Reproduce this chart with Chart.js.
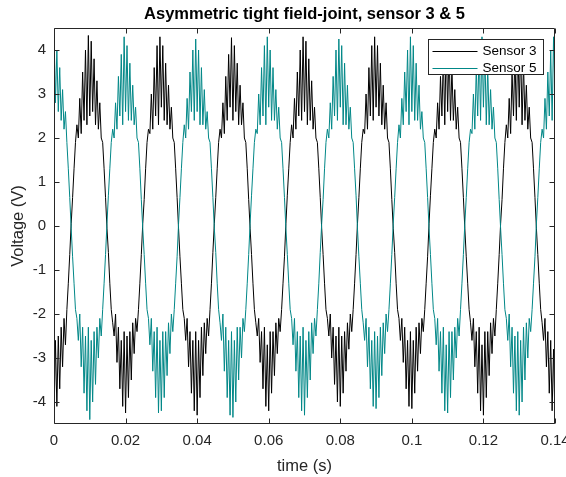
<!DOCTYPE html>
<html>
<head>
<meta charset="utf-8">
<title>Asymmetric tight field-joint, sensor 3 &amp; 5</title>
<script src="https://cdn.jsdelivr.net/npm/chart.js@4.4.1/dist/chart.umd.min.js"></script>
<style>
  body { margin: 0; background: #fff; }
  canvas { display: block; }
</style>
</head>
<body>
<canvas id="sensorChart" width="566" height="477"></canvas>
<script>
const sampleInterval = 0.0004;

const sensor3 = [
  -4.45, -2.6, -4.1, -2.5, -3.7, -2.3, -3.2, -2.1, -2.7, -1.9, -1.3, -0.65,
  0.05,
  0.65, 1.3, 1.9, 2.3, 2.0, 2.9, 2.1, 3.5, 2.4, 4.0, 2.3, 4.33, 2.5, 4.2, 2.6, 3.8, 2.3, 3.3, 2.2, 2.8, 2.0, 1.9, 1.3, 0.65,
  -0.05,
  -0.6, -1.3, -1.9, -2.2, -2.5, -2.0, -3.1, -2.3, -3.7, -2.6, -4.1, -2.4, -4.25, -2.5, -3.9, -2.4, -3.5, -2.2, -2.9, -2.1, -2.4, -1.9, -1.3, -0.65,
  0.05,
  0.6, 1.3, 1.9, 2.2, 2.1, 3.0, 2.2, 3.6, 2.5, 4.1, 2.3, 4.3, 2.7, 4.1, 2.4, 3.7, 2.3, 3.2, 2.2, 2.7, 2.0, 1.9, 1.3, 0.65,
  -0.05,
  -0.7, -1.3, -1.9, -2.1, -2.6, -2.1, -3.2, -2.4, -3.8, -2.6, -4.2, -2.4, -4.3, -2.6, -3.9, -2.3, -3.4, -2.2, -2.9, -2.1, -2.5, -1.9, -1.3, -0.6,
  0.05,
  0.65, 1.3, 1.9, 2.2, 2.0, 2.8, 2.1, 3.4, 2.4, 3.9, 2.7, 4.28, 2.4, 4.1, 2.6, 3.7, 2.3, 3.2, 2.3, 2.8, 2.0, 1.9, 1.3, 0.6,
  -0.05,
  -0.65, -1.3, -1.9, -2.2, -2.5, -2.1, -3.1, -2.4, -3.7, -2.3, -4.1, -2.7, -4.2, -2.4, -3.8, -2.4, -3.4, -2.2, -2.9, -2.1, -2.4, -1.9, -1.3, -0.7,
  0.05,
  0.7, 1.3, 1.9, 2.3, 2.0, 2.9, 2.2, 3.5, 2.5, 4.0, 2.4, 4.3, 2.6, 4.2, 2.3, 3.8, 2.4, 3.3, 2.2, 2.7, 2.0, 1.9, 1.3, 0.65,
  -0.05,
  -0.65, -1.3, -1.9, -2.1, -2.5, -2.0, -3.0, -2.3, -3.6, -2.5, -4.0, -2.3, -4.1, -2.5, -3.8, -2.4, -3.3, -2.2, -2.8, -2.0, -2.4, -1.9, -1.3, -0.65,
  0.05,
  0.65, 1.3, 1.9, 2.2, 2.1, 3.0, 2.2, 3.6, 2.5, 4.1, 2.4, 4.3, 2.7, 4.1, 2.5, 3.7, 2.3, 3.2, 2.2, 2.8, 2.0, 1.9, 1.3, 0.6,
  -0.05,
  -0.6, -1.3, -1.9, -2.1, -2.6, -2.1, -3.1, -2.3, -3.7, -2.6, -4.1, -2.4, -4.15, -2.6, -3.8, -2.3, -3.3, -2.2, -2.9, -2.1, -2.4, -1.9, -1.3, -0.7,
  0.05,
  0.7, 1.3, 1.9, 2.2, 2.0, 2.8, 2.2, 3.4, 2.5, 3.9, 2.3, 4.25, 2.6, 4.1, 2.4, 3.6, 2.4, 3.1, 2.2, 2.7, 2.0, 1.9, 1.3, 0.65,
  -0.05,
  -0.7, -1.3, -1.9, -2.2, -2.6, -2.1, -3.2, -2.4, -3.8, -2.3, -4.2, -2.7, -4.3, -2.4, -3.9, -2.4, -3.4, -2.2, -2.9, -2.1, -2.5, -1.9, -1.3, -0.65,
  0.05,
  0.6, 1.3, 1.9, 2.3, 2.0, 2.9, 2.1, 3.5, 2.5, 3.9, 2.4, 4.2, 2.7, 4.1, 2.3, 3.7, 2.4, 3.2, 2.2, 2.7, 2.0, 1.9, 1.3, 0.65,
  -0.05,
  -0.65, -1.3, -1.9, -2.2, -2.6, -2.1, -3.2, -2.4, -3.8, -2.6, -4.2, -2.8, -4.5
];

const sensor5 = [
  4.4, 2.8, 4.0, 2.6, 3.6, 2.4, 3.1, 2.2, 2.6, 1.9, 1.3, 0.65,
  -0.05,
  -0.7, -1.3, -1.9, -2.1, -2.6, -2.0, -3.2, -2.3, -3.8, -2.5, -4.2, -2.3, -4.4, -2.6, -4.0, -2.4, -3.6, -2.3, -3.0, -2.1, -2.5, -1.9, -1.3, -0.65,
  0.05,
  0.7, 1.3, 1.9, 2.2, 2.0, 2.8, 2.2, 3.4, 2.5, 3.9, 2.3, 4.3, 2.6, 4.1, 2.4, 3.7, 2.4, 3.2, 2.3, 2.7, 2.0, 1.9, 1.3, 0.6,
  -0.05,
  -0.65, -1.3, -1.9, -2.1, -2.7, -2.1, -3.3, -2.4, -3.9, -2.3, -4.25, -2.6, -4.2, -2.4, -3.9, -2.4, -3.4, -2.2, -2.9, -2.0, -2.4, -1.9, -1.3, -0.7,
  0.05,
  0.65, 1.3, 1.9, 2.3, 2.0, 2.9, 2.2, 3.5, 2.6, 4.0, 2.4, 4.25, 2.6, 4.0, 2.3, 3.6, 2.3, 3.1, 2.2, 2.6, 2.0, 1.9, 1.3, 0.65,
  -0.05,
  -0.6, -1.3, -1.9, -2.2, -2.6, -2.0, -3.3, -2.3, -3.9, -2.6, -4.3, -2.4, -4.35, -2.6, -4.0, -2.3, -3.5, -2.3, -3.0, -2.1, -2.4, -1.9, -1.3, -0.65,
  0.05,
  0.7, 1.3, 1.9, 2.2, 2.1, 3.0, 2.3, 3.6, 2.5, 4.1, 2.3, 4.3, 2.7, 4.0, 2.4, 3.6, 2.4, 3.1, 2.2, 2.7, 2.0, 1.9, 1.3, 0.65,
  -0.05,
  -0.65, -1.3, -1.9, -2.1, -2.7, -2.1, -3.3, -2.4, -3.9, -2.5, -4.2, -2.3, -4.3, -2.6, -3.9, -2.4, -3.5, -2.2, -2.9, -2.1, -2.5, -1.9, -1.3, -0.6,
  0.05,
  0.6, 1.3, 1.9, 2.2, 2.0, 2.8, 2.2, 3.4, 2.5, 4.0, 2.4, 4.25, 2.7, 4.1, 2.3, 3.7, 2.3, 3.2, 2.2, 2.7, 2.0, 1.9, 1.3, 0.7,
  -0.05,
  -0.7, -1.3, -1.9, -2.2, -2.6, -2.1, -3.2, -2.3, -3.7, -2.6, -4.1, -2.4, -4.15, -2.5, -3.9, -2.3, -3.4, -2.2, -2.9, -2.0, -2.4, -1.9, -1.3, -0.65,
  0.05,
  0.65, 1.3, 1.9, 2.3, 2.0, 2.9, 2.3, 3.5, 2.6, 4.0, 2.3, 4.3, 2.6, 4.1, 2.4, 3.7, 2.4, 3.2, 2.2, 2.6, 2.0, 1.9, 1.3, 0.65,
  -0.05,
  -0.65, -1.3, -1.9, -2.1, -2.7, -2.1, -3.3, -2.4, -3.8, -2.3, -4.2, -2.7, -4.25, -2.4, -3.9, -2.4, -3.5, -2.3, -3.0, -2.1, -2.5, -1.9, -1.3, -0.65,
  0.05,
  0.65, 1.3, 1.9, 2.2, 2.1, 3.0, 2.2, 3.6, 2.5, 4.1, 2.4, 4.3, 2.7, 4.0, 2.3, 3.6, 2.3, 3.1, 2.2, 2.7, 2.0, 1.9, 1.3, 0.6,
  -0.05,
  -0.65, -1.3, -1.9, -2.1, -2.6, -2.0, -3.2, -2.3, -3.8, -2.5, -4.2, -2.4, -4.3, -2.6, -4.0, -2.3, -3.5, -2.2, -3.0, -2.1, -2.4, -1.9, -1.3, -0.7,
  0.05,
  0.65, 1.3, 1.9, 2.2, 2.0, 2.9, 2.2, 3.5, 2.5, 4.0, 2.4, 4.3, 3.0
];

const seriesNames = ['Sensor 3', 'Sensor 5'];
const xTickValues = [0, 0.02, 0.04, 0.06, 0.08, 0.1, 0.12, 0.14];
const xTickLabels = ['0', '0.02', '0.04', '0.06', '0.08', '0.1', '0.12', '0.14'];
const yTickValues = [-4, -3, -2, -1, 0, 1, 2, 3, 4];
const yTickLabels = ['-4', '-3', '-2', '-1', '0', '1', '2', '3', '4'];

const FONT = 'Liberation Sans, Arial, Helvetica, sans-serif';
const AXIS_COLOR = '#262626';
const TEAL = 'rgb(0, 135, 135)';

const toPoints = (values) =>
  values.map((v, i) => ({ x: i * sampleInterval, y: v }));

// matlab style box with inward ticks on all four sides
const axesBox = {
  id: 'axesBox',
  afterDatasetsDraw(chart) {
    const { ctx, chartArea: a, scales } = chart;
    const left = Math.round(a.left) + 0.5;
    const right = Math.round(a.right) - 0.5;
    const top = Math.round(a.top) + 0.5;
    const bottom = Math.round(a.bottom) - 0.5;
    ctx.save();
    ctx.strokeStyle = AXIS_COLOR;
    ctx.lineWidth = 1;
    ctx.beginPath();
    scales.x.ticks.forEach((t) => {
      const px = Math.round(scales.x.getPixelForValue(t.value)) + 0.5;
      ctx.moveTo(px, bottom);
      ctx.lineTo(px, bottom - 5);
      ctx.moveTo(px, top);
      ctx.lineTo(px, top + 5);
    });
    scales.y.ticks.forEach((t) => {
      const py = Math.round(scales.y.getPixelForValue(t.value)) + 0.5;
      ctx.moveTo(left, py);
      ctx.lineTo(left + 5, py);
      ctx.moveTo(right, py);
      ctx.lineTo(right - 5, py);
    });
    ctx.rect(left, top, right - left, bottom - top);
    ctx.stroke();
    ctx.restore();
  },
};

const boxLegend = {
  id: 'boxLegend',
  afterDraw(chart) {
    const { ctx, chartArea: a } = chart;
    const w = 115;
    const h = 35;
    const x0 = Math.round(a.right) - 12 - w + 0.5;
    const y0 = Math.round(a.top) + 11 + 0.5;
    ctx.save();
    ctx.fillStyle = '#fff';
    ctx.fillRect(x0, y0, w, h);
    ctx.strokeStyle = AXIS_COLOR;
    ctx.lineWidth = 1;
    ctx.strokeRect(x0, y0, w, h);
    ctx.font = '13.5px ' + FONT;
    ctx.textBaseline = 'middle';
    ctx.textAlign = 'left';
    chart.data.datasets.forEach((ds, i) => {
      const ly = Math.round(y0 + 11 + i * 17) + 0.5;
      ctx.strokeStyle = ds.borderColor;
      ctx.beginPath();
      ctx.moveTo(x0 + 4, ly);
      ctx.lineTo(x0 + 49, ly);
      ctx.stroke();
      ctx.fillStyle = '#000';
      ctx.fillText(ds.label, x0 + 54, ly);
    });
    ctx.restore();
  },
};

new Chart(document.getElementById('sensorChart'), {
  type: 'line',
  data: {
    datasets: [
      {
        label: seriesNames[0],
        data: toPoints(sensor3),
        borderColor: '#000',
        borderWidth: 1,
        pointRadius: 0,
        borderJoinStyle: 'round',
        tension: 0,
        order: 2,
      },
      {
        label: seriesNames[1],
        data: toPoints(sensor5),
        borderColor: TEAL,
        borderWidth: 1,
        pointRadius: 0,
        borderJoinStyle: 'round',
        tension: 0,
        order: 1,
      },
    ],
  },
  options: {
    responsive: false,
    animation: false,
    events: [],
    layout: { padding: { left: 0, right: 0, top: 0, bottom: 0 } },
    plugins: {
      legend: { display: false },
      tooltip: { enabled: false },
      title: {
        display: true,
        fullSize: false,
        text: 'Asymmetric tight field-joint, sensor 3 & 5',
        color: '#000',
        font: { family: FONT, size: 16.5, weight: 'bold', lineHeight: 1.2 },
        padding: { top: 5, bottom: 3.2 },
      },
    },
    scales: {
      x: {
        type: 'linear',
        min: 0,
        max: 0.14,
        grid: { display: false, drawTicks: false },
        border: { display: false },
        afterFit: (scale) => {
          scale.height = 53;
          scale.paddingLeft = 0;
          scale.paddingRight = 11;
        },
        afterBuildTicks: (scale) => {
          scale.ticks = xTickValues.map((v) => ({ value: v }));
        },
        ticks: {
          color: AXIS_COLOR,
          font: { family: FONT, size: 15 },
          padding: 8,
          maxRotation: 0,
          autoSkip: false,
          callback: (value, index) => xTickLabels[index],
        },
        title: {
          display: true,
          text: 'time (s)',
          color: AXIS_COLOR,
          font: { family: FONT, size: 16.5, lineHeight: 1.0 },
          padding: { top: 0, bottom: 2 },
        },
      },
      y: {
        type: 'linear',
        min: -4.5,
        max: 4.5,
        grid: { display: false, drawTicks: false },
        border: { display: false },
        afterFit: (scale) => {
          scale.width = 54;
          scale.paddingTop = 0;
          scale.paddingBottom = 0;
        },
        afterBuildTicks: (scale) => {
          scale.ticks = yTickValues.map((v) => ({ value: v }));
        },
        ticks: {
          color: AXIS_COLOR,
          font: { family: FONT, size: 15 },
          padding: 8,
          autoSkip: false,
          callback: (value, index) => yTickLabels[index],
        },
        title: {
          display: true,
          text: 'Voltage (V)',
          color: AXIS_COLOR,
          font: { family: FONT, size: 16.5, lineHeight: 1.2 },
          padding: { top: 8.5, bottom: 0 },
        },
      },
    },
  },
  plugins: [axesBox, boxLegend],
});
</script>
</body>
</html>
